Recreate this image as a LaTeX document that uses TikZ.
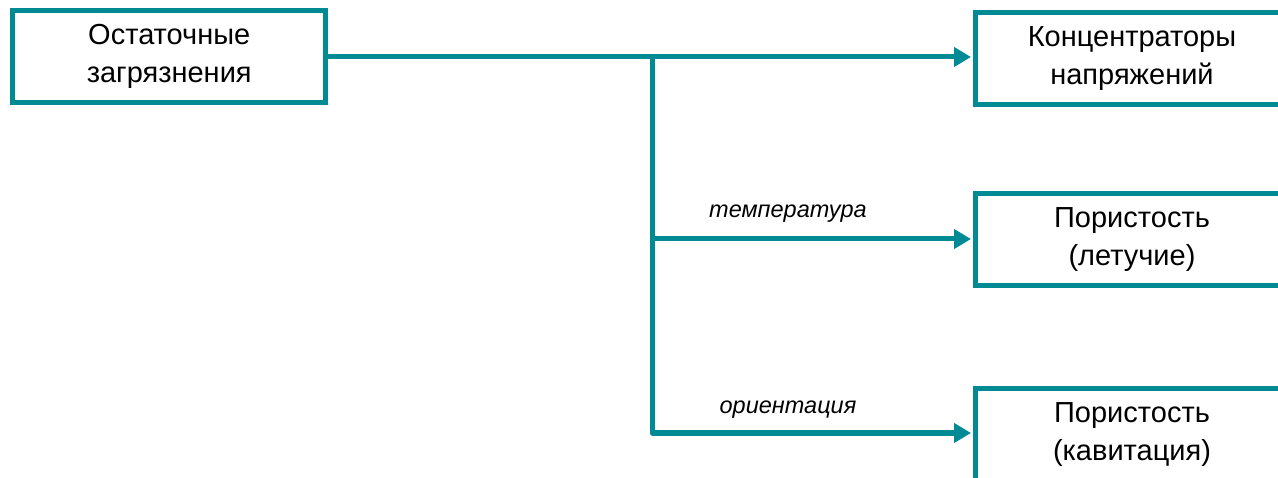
\documentclass[tikz,border=0pt]{standalone}
\usepackage{fontspec}
\setmainfont{Liberation Sans}
\usetikzlibrary{arrows.meta}
\definecolor{tealc}{RGB}{0,139,148}
\begin{document}
\begin{tikzpicture}[x=1pt,y=-1pt,
  box/.style={draw=tealc,line width=5pt,fill=white,rectangle,inner sep=0pt,
    minimum width=313pt,minimum height=92pt,align=center,
    font=\fontsize{29}{38}\selectfont},
  conn/.style={draw=tealc,line width=5pt,line join=round},
  arr/.style={conn,-{Triangle[length=17pt,width=19pt]},shorten >=2pt},
  lbl/.style={font=\fontsize{23.5}{28}\selectfont\itshape,inner sep=0pt}]
\useasboundingbox (0,0) rectangle (1278,478);
\clip (0,0) rectangle (1278,478);
\fill[white] (0,0) rectangle (1278,478);
\node[box] (src) at (169.25,56.75) {Остаточные\\загрязнения};
\node[box] (b1) at (1132,58.25) {Концентраторы\\напряжений};
\node[box] (b2) at (1132,239.5) {Пористость\\(летучие)};
\node[box] (b3) at (1132,435) {Пористость\\(кавитация)};
\coordinate (j) at (652,57);
\coordinate (jb) at (652,433);
\coordinate (j2) at (652,239);
\draw[arr] (src.east |- j) -- (b1.west |- j);
\draw[arr] (j) -- (jb) -- (b3.west |- jb);
\draw[arr] (j2) -- (b2.west |- j2);
\node[lbl] (l1) at (788,214) {температура};
\node[lbl] (l2) at (788,410) {ориентация};
\end{tikzpicture}
\end{document}
